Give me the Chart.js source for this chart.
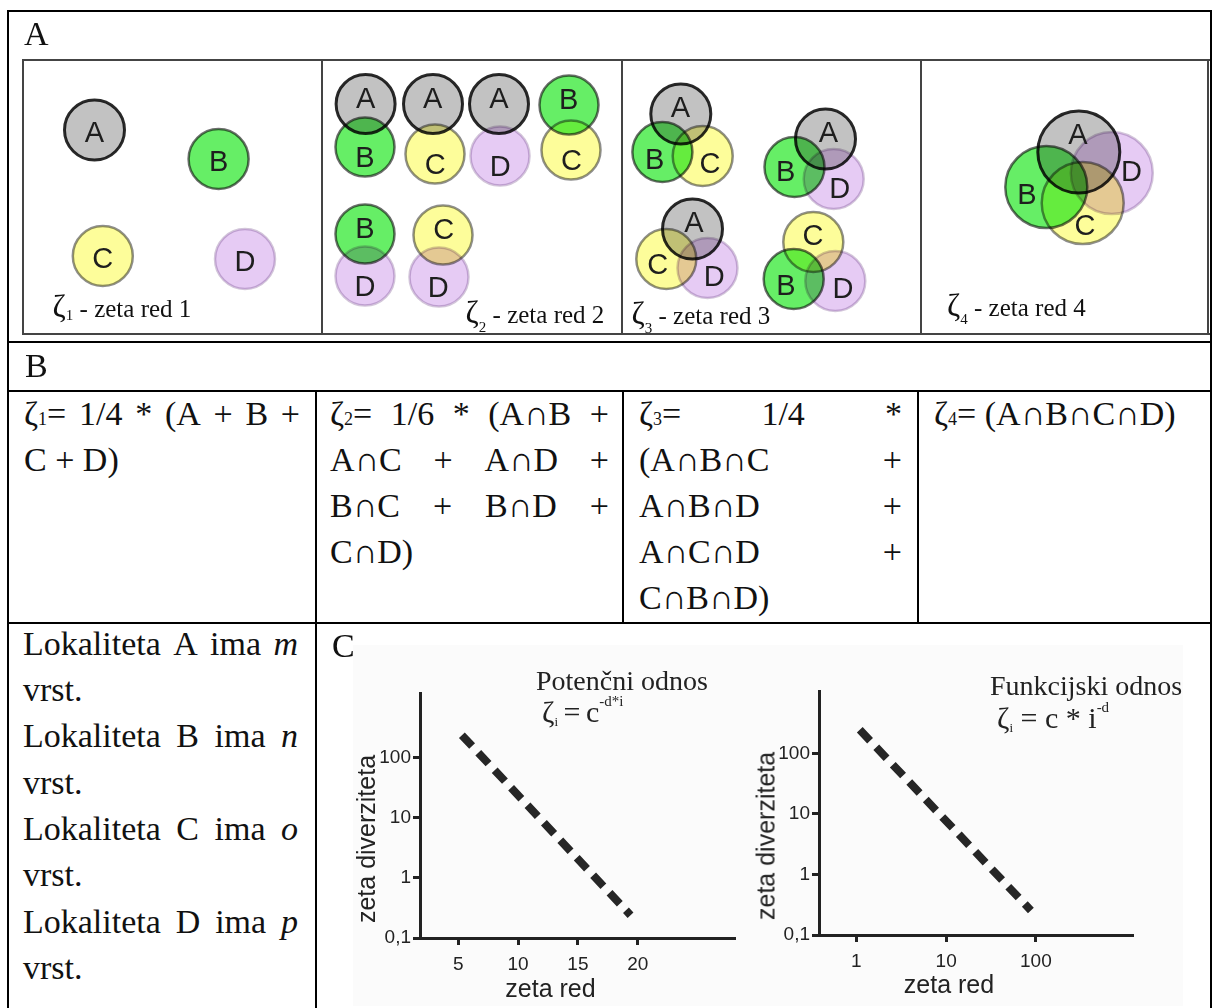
<!DOCTYPE html>
<html>
<head>
<meta charset="utf-8">
<script src="https://cdn.jsdelivr.net/npm/chart.js@4.4.1/dist/chart.umd.min.js"></script>
<style>
  html, body { margin: 0; padding: 0; background: #fff; }
  #page { position: relative; width: 1215px; height: 1008px; overflow: hidden;
    font-family: 'Liberation Serif', 'DejaVu Serif', serif; color: #111; }
  .ln { position: absolute; background: #000; }
  .gl { position: absolute; background: #444; }
  .t { position: absolute; font-size: 34px; line-height: 46px; white-space: nowrap; }
  .t .row { display: flex; justify-content: space-between; height: 46px; }
  .t .sb { font-size: 18px; line-height: 1; }
  .bl { position: absolute; line-height: 0; white-space: nowrap; }
  .sans { font-family: 'Liberation Sans', Arial, sans-serif; color: #222; }
  .rot { position: absolute; line-height: 1; white-space: nowrap; font-size: 25px;
    transform: translate(-50%, -50%) rotate(-90deg); }
  canvas { position: absolute; }
</style>
</head>
<body>
<div id="page">
  <!-- chart image background of part C -->
  <div style="position:absolute;left:353px;top:645px;width:830px;height:361px;background:#fbfbfb"></div>

  <!-- part A: zeta panels -->
  <canvas id="zeta1" width="300" height="275" style="left:22px;top:60px"></canvas>
  <canvas id="zeta2" width="300" height="275" style="left:322px;top:60px"></canvas>
  <canvas id="zeta3" width="299" height="275" style="left:622px;top:60px"></canvas>
  <canvas id="zeta4" width="288" height="275" style="left:921px;top:60px"></canvas>

  <!-- part C: charts -->
  <canvas id="potChart" width="410" height="355" style="left:350px;top:650px"></canvas>
  <canvas id="funChart" width="460" height="355" style="left:750px;top:650px"></canvas>

  <!-- table rules -->
  <div class="ln" style="left:7px;top:10px;width:1205px;height:2px"></div>
  <div class="ln" style="left:7px;top:341px;width:1205px;height:2px"></div>
  <div class="ln" style="left:7px;top:390px;width:1205px;height:2px"></div>
  <div class="ln" style="left:7px;top:622px;width:1205px;height:2px"></div>
  <div class="ln" style="left:7px;top:10px;width:2px;height:998px"></div>
  <div class="ln" style="left:1210px;top:10px;width:2px;height:998px"></div>
  <div class="ln" style="left:315px;top:390px;width:2px;height:618px"></div>
  <div class="ln" style="left:622px;top:390px;width:2px;height:233px"></div>
  <div class="ln" style="left:917px;top:390px;width:2px;height:233px"></div>

  <!-- part A frame -->
  <div class="gl" style="left:22px;top:59px;width:1188px;height:2px"></div>
  <div class="gl" style="left:22px;top:333px;width:1188px;height:2px"></div>
  <div class="gl" style="left:22px;top:59px;width:2px;height:276px"></div>
  <div class="gl" style="left:321px;top:59px;width:2px;height:276px"></div>
  <div class="gl" style="left:621px;top:59px;width:2px;height:276px"></div>
  <div class="gl" style="left:920px;top:59px;width:2px;height:276px"></div>
  <div class="gl" style="left:1207px;top:59px;width:2px;height:276px"></div>

  <div class="t" style="left:24px;top:10.5px">A</div>
  <div class="bl" style="left:52.6px;top:305.9px;font-size:25px"><span style="font-size:32px">ζ</span><span style="font-size:15px;position:relative;top:3px">1</span> - zeta red 1</div>
  <div class="bl" style="left:465.6px;top:311.9px;font-size:25px"><span style="font-size:32px">ζ</span><span style="font-size:15px;position:relative;top:9px">2</span> - zeta red 2</div>
  <div class="bl" style="left:631.5px;top:312.9px;font-size:25px"><span style="font-size:32px">ζ</span><span style="font-size:15px;position:relative;top:9px">3</span> - zeta red 3</div>
  <div class="bl" style="left:947px;top:304.9px;font-size:25px"><span style="font-size:32px">ζ</span><span style="font-size:15px;position:relative;top:8px">4</span> - zeta red 4</div>

  <!-- part B -->
  <div class="t" style="left:25px;top:342.5px">B</div>
  <div class="t" style="left:24px;top:390.5px;width:276px">
    <div class="row"><span>ζ<span class="sb">1</span>=</span><span>1/4</span><span>*</span><span>(A</span><span>+</span><span>B</span><span>+</span></div>
    <div>C + D)</div>
  </div>
  <div class="t" style="left:330px;top:390.5px;width:279px">
    <div class="row"><span>ζ<span class="sb">2</span>=</span><span>1/6</span><span>*</span><span>(A∩B</span><span>+</span></div>
    <div class="row"><span>A∩C</span><span>+</span><span>A∩D</span><span>+</span></div>
    <div class="row"><span>B∩C</span><span>+</span><span>B∩D</span><span>+</span></div>
    <div>C∩D)</div>
  </div>
  <div class="t" style="left:639px;top:390.5px;width:263px">
    <div class="row"><span>ζ<span class="sb">3</span>=</span><span>1/4</span><span>*</span></div>
    <div class="row"><span>(A∩B∩C</span><span>+</span></div>
    <div class="row"><span>A∩B∩D</span><span>+</span></div>
    <div class="row"><span>A∩C∩D</span><span>+</span></div>
    <div>C∩B∩D)</div>
  </div>
  <div class="t" style="left:934px;top:390.5px">ζ<span class="sb">4</span>= (A∩B∩C∩D)</div>

  <!-- part C -->
  <div class="t" style="left:23px;top:620.5px;width:275px;line-height:46.4px">
    <div class="row" style="height:46.4px"><span>Lokaliteta</span><span>A</span><span>ima</span><i>m</i></div>
    <div>vrst.</div>
    <div class="row" style="height:46.4px"><span>Lokaliteta</span><span>B</span><span>ima</span><i>n</i></div>
    <div>vrst.</div>
    <div class="row" style="height:46.4px"><span>Lokaliteta</span><span>C</span><span>ima</span><i>o</i></div>
    <div>vrst.</div>
    <div class="row" style="height:46.4px"><span>Lokaliteta</span><span>D</span><span>ima</span><i>p</i></div>
    <div>vrst.</div>
  </div>
  <div class="t" style="left:332px;top:622.5px">C</div>

  <div class="bl" style="left:536px;top:680.5px;font-size:28px;color:#222">Potenčni odnos</div>
  <div class="bl" style="left:542px;top:711.9px;font-size:30px;color:#222;word-spacing:-2px">ζ<span style="font-size:13px;position:relative;top:4px">i</span> = c<span style="font-size:15px;position:relative;top:-16px">-d*i</span></div>
  <div class="bl" style="left:990px;top:685.5px;font-size:28px;color:#222">Funkcijski odnos</div>
  <div class="bl" style="left:997px;top:717.9px;font-size:30px;color:#222">ζ<span style="font-size:13px;position:relative;top:4px">i</span> = c * i<span style="font-size:15px;position:relative;top:-16px">-d</span></div>

  <div class="bl sans" style="left:550.5px;top:988.3px;font-size:25px;transform:translateX(-50%)">zeta red</div>
  <div class="bl sans" style="left:949px;top:984.3px;font-size:25px;transform:translateX(-50%)">zeta red</div>
  <div class="rot sans" style="left:366.3px;top:839px">zeta diverziteta</div>
  <div class="rot sans" style="left:766.3px;top:836px">zeta diverziteta</div>
</div>

<script>
'use strict';

// ---- A: circle centres per zeta order (panel-local units), grouped by compared sites ----
const zeta1Sets = ['A', 'B', 'C', 'D'];
const zeta1X = [72.5, 196.6, 80.8, 223];
const zeta1Y = [70, 99, 196, 199];
const zeta1Group = [0, 1, 2, 3];

const zeta2Sets = ['A', 'B', 'A', 'C', 'A', 'D', 'B', 'C', 'B', 'D', 'C', 'D'];
const zeta2X = [43.6, 43, 111, 113, 177, 178, 247, 249, 43, 43, 121, 117];
const zeta2Y = [44, 87, 44, 94, 44, 96, 45, 90, 174, 216, 175, 217];
const zeta2Group = [0, 0, 1, 1, 2, 2, 3, 3, 4, 4, 5, 5];

const zeta3Sets = ['A', 'B', 'C', 'A', 'B', 'D', 'A', 'C', 'D', 'C', 'B', 'D'];
const zeta3X = [58.8, 40.4, 80.7, 203.5, 172.5, 211.7, 70.5, 44.3, 85.5, 191.3, 171.7, 213.3];
const zeta3Y = [54, 92, 96, 79, 107, 119, 169, 199, 208, 182, 219, 221];
const zeta3Group = [0, 0, 0, 1, 1, 1, 2, 2, 2, 3, 3, 3];

const zeta4Sets = ['A', 'B', 'C', 'D'];
const zeta4X = [157.8, 125.3, 161.7, 190.8];
const zeta4Y = [92, 127, 143, 113];
const zeta4Group = [0, 0, 0, 0];

const zetaRadius = [30, 29.5, 30, 41];

// ---- C: zeta decline lines ----
const potX = [5.3, 19.4];
const potY = [240, 0.24];
const funX = [1.09, 88];
const funY = [244, 0.254];
const potXTicks = [5, 10, 15, 20];
const funXTicks = [1, 10, 100];
const yTicks = [0.1, 1, 10, 100];
const yTickLabels = ['0,1', '1', '10', '100'];

const setFill = { A: '#c2c2c2', B: '#66ee66', C: '#fdfd9a', D: '#e6cbf4' };
const setEdge = { A: '#2a2a2a', B: '#6d6d6d', C: '#8e8e8e', D: '#d3c6da' };
const drawRank = { D: 0, B: 1, C: 2, A: 3 };

// multiply blend for overlaps, then letters pushed away from the group centre
const vennLabels = {
  id: 'vennLabels',
  beforeDatasetsDraw(chart) {
    chart.ctx.save();
    chart.ctx.globalCompositeOperation = 'multiply';
  },
  afterDatasetsDraw(chart, args, opts) {
    const ctx = chart.ctx;
    ctx.restore();
    const ds = chart.data.datasets[0];
    const pts = chart.getDatasetMeta(0).data;
    ctx.save();
    ctx.font = '29px "Liberation Sans", Arial, sans-serif';
    ctx.fillStyle = '#1e1e1e';
    ctx.textAlign = 'center';
    ctx.textBaseline = 'alphabetic';
    pts.forEach((p, i) => {
      const mates = pts.filter((q, j) => ds.groups[j] === ds.groups[i]);
      const cx = mates.reduce((s, q) => s + q.x, 0) / mates.length;
      const cy = mates.reduce((s, q) => s + q.y, 0) / mates.length;
      const dx = p.x - cx, dy = p.y - cy;
      const d = Math.hypot(dx, dy);
      const k = d > 0 ? opts.push / d : 0;
      ctx.fillText(ds.sets[i], p.x + dx * k, p.y + dy * k + 12);
    });
    ctx.restore();
  }
};

function vennPanel(canvasId, sets, xs, ys, groups, r, push) {
  const canvas = document.getElementById(canvasId);
  const idx = sets.map((_, i) => i)
    .sort((a, b) => (groups[a] - groups[b]) || (drawRank[sets[a]] - drawRank[sets[b]]));
  const s = idx.map(i => sets[i]);
  return new Chart(canvas, {
    type: 'bubble',
    data: { datasets: [{
      data: idx.map(i => ({ x: xs[i], y: ys[i], r })),
      sets: s,
      groups: idx.map(i => groups[i]),
      backgroundColor: s.map(k => setFill[k]),
      borderColor: s.map(k => setEdge[k]),
      borderWidth: s.map(k => (k === 'A' ? 3 : 2.5)),
      clip: false
    }] },
    options: {
      responsive: false, animation: false, events: [],
      layout: { autoPadding: false, padding: 0 },
      scales: {
        x: { type: 'linear', min: 0, max: canvas.width, display: false },
        y: { type: 'linear', min: 0, max: canvas.height, reverse: true, display: false }
      },
      plugins: { legend: { display: false }, tooltip: { enabled: false }, vennLabels: { push } }
    },
    plugins: [vennLabels]
  });
}

vennPanel('zeta1', zeta1Sets, zeta1X, zeta1Y, zeta1Group, zetaRadius[0], 0);
vennPanel('zeta2', zeta2Sets, zeta2X, zeta2Y, zeta2Group, zetaRadius[1], 8);
vennPanel('zeta3', zeta3Sets, zeta3X, zeta3Y, zeta3Group, zetaRadius[2], 9);
vennPanel('zeta4', zeta4Sets, zeta4X, zeta4Y, zeta4Group, zetaRadius[3], 20);

const tickFont = { family: "'Liberation Sans', Arial, sans-serif", size: 19 };
const axisGrid = { drawOnChartArea: false, drawTicks: true, tickLength: 7, lineWidth: 3, color: '#222' };
const axisBorder = { display: true, color: '#222', width: 3 };

function zetaChart(canvasId, xs, ys, x, y, pad) {
  return new Chart(document.getElementById(canvasId), {
    type: 'scatter',
    data: { datasets: [{
      data: xs.map((v, i) => ({ x: v, y: ys[i] })),
      showLine: true,
      borderColor: '#262626',
      borderWidth: 8,
      borderDash: [15, 9],
      borderCapStyle: 'butt',
      pointRadius: 0,
      fill: false
    }] },
    options: {
      responsive: false, animation: false, events: [],
      layout: { autoPadding: false, padding: pad },
      plugins: { legend: { display: false }, tooltip: { enabled: false } },
      scales: {
        x: {
          type: x.type, min: x.min, max: x.max,
          afterBuildTicks: s => { s.ticks = x.ticks.map(v => ({ value: v })); },
          afterFit: s => { s.height = x.height; },
          grid: axisGrid, border: axisBorder,
          ticks: { font: tickFont, color: '#222', padding: 8, maxRotation: 0, autoSkip: false,
            callback: v => String(v) }
        },
        y: {
          type: 'logarithmic', min: 0.1, max: y.max,
          afterBuildTicks: s => { s.ticks = yTicks.map(v => ({ value: v })); },
          afterFit: s => { s.width = y.width; },
          grid: axisGrid, border: axisBorder,
          ticks: { font: tickFont, color: '#222', padding: 2, autoSkip: false,
            callback: v => yTickLabels[yTicks.indexOf(v)] }
        }
      }
    }
  });
}

zetaChart('potChart', potX, potY,
  { type: 'linear', min: 1.8, max: 28.05, ticks: potXTicks, height: 67 },
  { max: 1210, width: 70 },
  { top: 43, right: 26, left: 0, bottom: 0 });

zetaChart('funChart', funX, funY,
  { type: 'logarithmic', min: 0.383, max: 1178, ticks: funXTicks, height: 70 },
  { max: 1067, width: 69 },
  { top: 41, right: 78, left: 0, bottom: 0 });
</script>
</body>
</html>
